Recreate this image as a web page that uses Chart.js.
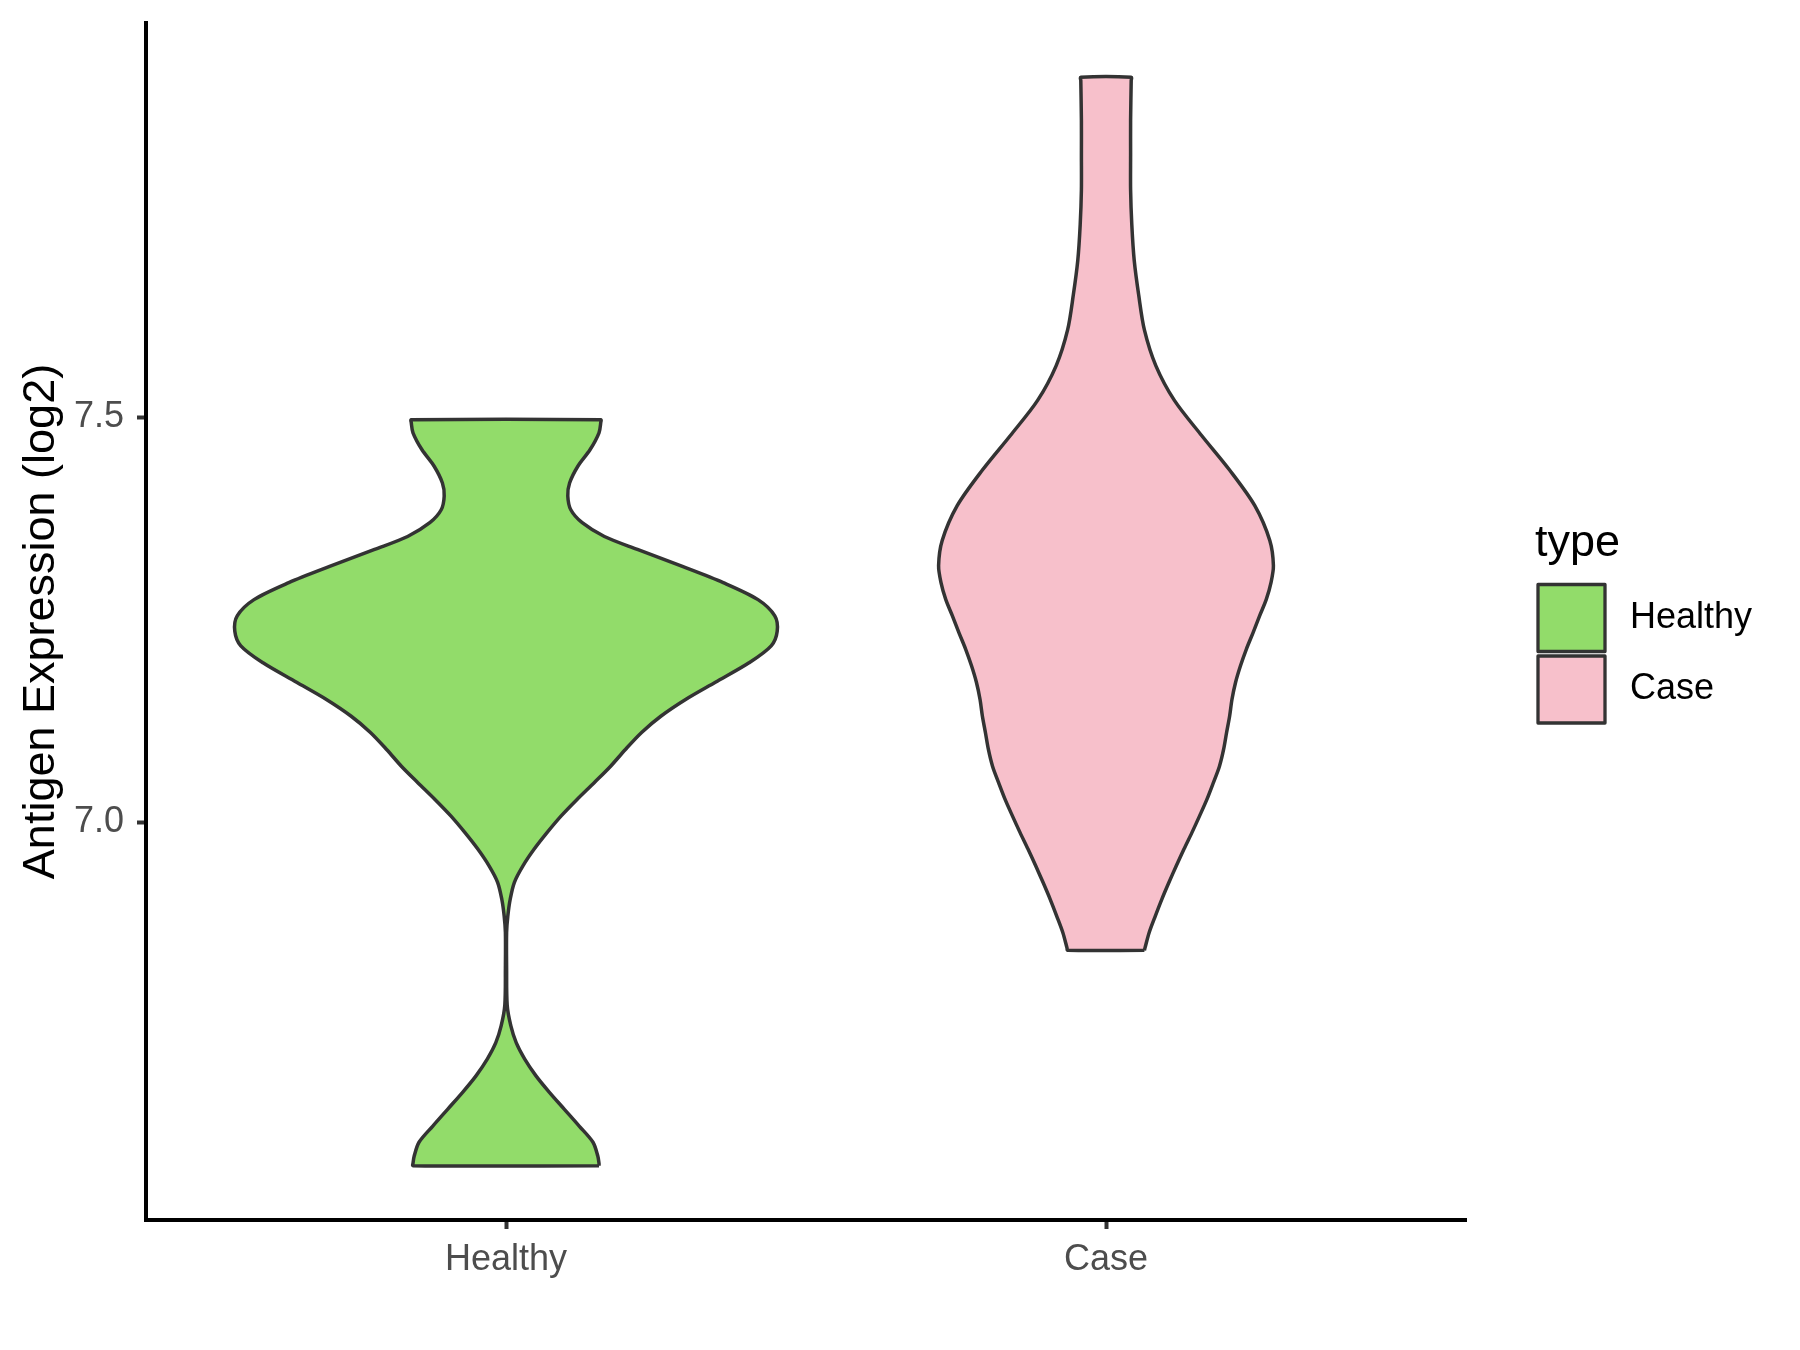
<!DOCTYPE html>
<html>
<head>
<meta charset="utf-8">
<script src="https://cdn.jsdelivr.net/npm/chart.js@4.4.1/dist/chart.umd.min.js"></script>
<style>
  html, body { margin: 0; padding: 0; background: #fff; }
  canvas { display: block; }
</style>
</head>
<body>
<canvas id="violin" width="1800" height="1350"></canvas>
<script>
const groups = ['Healthy', 'Case'];
const fills = ['rgb(146, 220, 106)', 'rgb(247, 192, 203)'];

// violin outlines: expression level and half width (in category units)
const healthyY = [6.576, 6.579, 6.588, 6.605, 6.625, 6.646, 6.667, 6.687, 6.708, 6.728,
    6.749, 6.774, 6.820, 6.864, 6.884, 6.905, 6.926, 6.946, 6.967, 6.987,
    7.008, 7.028, 7.049, 7.069, 7.090, 7.111, 7.131, 7.152, 7.173, 7.197,
    7.218, 7.236, 7.255, 7.275, 7.296, 7.316, 7.337, 7.353, 7.370, 7.386,
    7.403, 7.419, 7.440, 7.460, 7.481, 7.494, 7.497];
const healthyWidth = [0.155, 0.155, 0.153, 0.145, 0.122, 0.097, 0.072, 0.050, 0.031, 0.017,
    0.008, 0.002, 0.001, 0.001, 0.003, 0.007, 0.014, 0.028, 0.047, 0.068,
    0.092, 0.118, 0.147, 0.174, 0.199, 0.226, 0.258, 0.300, 0.349, 0.405,
    0.442, 0.452, 0.448, 0.420, 0.362, 0.294, 0.219, 0.164, 0.127, 0.108,
    0.103, 0.106, 0.120, 0.140, 0.155, 0.158, 0.158];

const caseY = [6.842, 6.845, 6.864, 6.884, 6.905, 6.926, 6.946, 6.967, 6.987, 7.008,
    7.028, 7.049, 7.069, 7.090, 7.111, 7.131, 7.152, 7.173, 7.193, 7.214,
    7.234, 7.255, 7.275, 7.296, 7.317, 7.348, 7.391, 7.435, 7.478, 7.521,
    7.564, 7.608, 7.651, 7.694, 7.738, 7.781, 7.824, 7.867, 7.916, 7.920];
const caseWidth = [0.064, 0.065, 0.072, 0.082, 0.093, 0.105, 0.117, 0.130, 0.143, 0.156,
    0.168, 0.179, 0.189, 0.196, 0.201, 0.206, 0.210, 0.216, 0.224, 0.234,
    0.245, 0.256, 0.267, 0.275, 0.279, 0.273, 0.248, 0.206, 0.159, 0.114,
    0.083, 0.064, 0.0545, 0.047, 0.043, 0.041, 0.041, 0.041, 0.042, 0.042];

const yTicks = [7.0, 7.5];
const yMin = 6.509;
const yMax = 7.987;

const fontFamily = '"Liberation Sans", Arial, sans-serif';

// right side going up, left side coming down, then close
function outline(center, ys, widths) {
    const pts = [];
    for (let i = 0; i < ys.length; i++) {
        pts.push({x: center + widths[i], y: ys[i]});
    }
    for (let i = ys.length - 1; i >= 0; i--) {
        pts.push({x: center - widths[i], y: ys[i]});
    }
    pts.push(pts[0]);
    return pts;
}

const shapes = [
    outline(1, healthyY, healthyWidth),
    outline(2, caseY, caseWidth),
];

const datasets = groups.map((g, i) => ({
    label: g,
    data: shapes[i],
    showLine: true,
    fill: 'shape',
    backgroundColor: fills[i],
    borderColor: '#333333',
    borderWidth: 3.5,
    borderJoinStyle: 'round',
    pointRadius: 0,
    tension: 0.3,
}));

const legendBox = {
    id: 'legendBox',
    afterDraw(chart) {
        const ctx = chart.ctx;
        const area = chart.chartArea;
        const lx = area.right + 72;
        const cy = (area.top + area.bottom) / 2;
        const size = 67;
        const step = 71.5;
        ctx.save();
        ctx.fillStyle = '#000';
        ctx.textBaseline = 'alphabetic';
        ctx.font = '45px ' + fontFamily;
        ctx.fillText('type', lx - 3, cy - 66);
        ctx.font = '36px ' + fontFamily;
        groups.forEach((g, i) => {
            const top = cy - 37 + i * step;
            ctx.fillStyle = fills[i];
            ctx.fillRect(lx, top, size, size);
            ctx.strokeStyle = '#333333';
            ctx.lineWidth = 3.3;
            ctx.lineJoin = 'round';
            ctx.strokeRect(lx, top, size, size);
            ctx.fillStyle = '#000';
            ctx.textBaseline = 'middle';
            ctx.fillText(g, lx + 92, top + size / 2);
        });
        ctx.restore();
    }
};

const config = {
    type: 'scatter',
    data: {datasets: datasets},
    options: {
        responsive: false,
        animation: false,
        layout: {padding: {left: 0, right: 334, top: 23, bottom: 0}},
        plugins: {
            legend: {display: false},
            tooltip: {enabled: false},
        },
        scales: {
            x: {
                type: 'linear',
                min: 0.4,
                max: 2.6,
                afterBuildTicks: s => { s.ticks = groups.map((g, i) => ({value: i + 1})); },
                afterFit: s => {
                    s.height = 130;
                    s.paddingLeft = 0;
                    s.paddingRight = 0;
                },
                ticks: {
                    callback: v => groups[v - 1],
                    font: {family: fontFamily, size: 36},
                    color: '#4D4D4D',
                    padding: 9,
                    maxRotation: 0,
                    autoSkip: false,
                },
                grid: {drawOnChartArea: false, drawTicks: true, tickLength: 9, tickWidth: 4, tickColor: '#333333'},
                border: {display: true, color: '#000000', width: 4},
            },
            y: {
                type: 'linear',
                min: yMin,
                max: yMax,
                afterBuildTicks: s => { s.ticks = yTicks.map(v => ({value: v})); },
                afterFit: s => {
                    s.width = 146;
                    s.paddingTop = 0;
                    s.paddingBottom = 0;
                },
                ticks: {
                    callback: v => v.toFixed(1),
                    font: {family: fontFamily, size: 36},
                    color: '#4D4D4D',
                    padding: 13,
                },
                grid: {drawOnChartArea: false, drawTicks: true, tickLength: 9, tickWidth: 4, tickColor: '#333333'},
                border: {display: true, color: '#000000', width: 4},
                title: {
                    display: true,
                    text: 'Antigen Expression (log2)',
                    font: {family: fontFamily, size: 45},
                    color: '#000000',
                    padding: {top: 15, bottom: 0},
                },
            },
        },
    },
    plugins: [legendBox],
};

const myChart = new Chart(document.getElementById('violin'), config);
</script>
</body>
</html>
